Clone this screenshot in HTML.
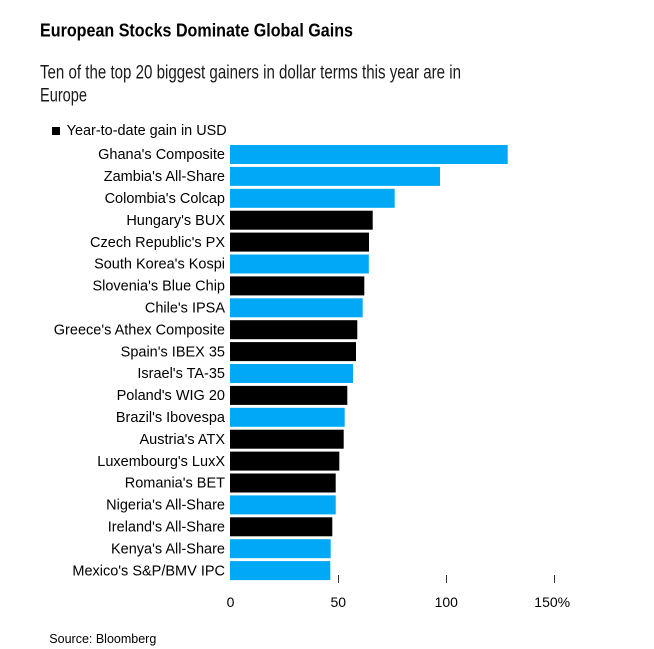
<!DOCTYPE html>
<html>
<head>
<meta charset="utf-8">
<style>
  html, body { margin: 0; padding: 0; background: #ffffff; }
  body { width: 654px; height: 649px; overflow: hidden; }
  svg { display: block; font-family: "Liberation Sans", Arial, sans-serif; }
</style>
</head>
<body>
<svg width="654" height="649" viewBox="0 0 654 649" xmlns="http://www.w3.org/2000/svg">
  <rect x="0" y="0" width="654" height="649" fill="#ffffff"/>

  <!-- Title -->
  <text x="40" y="36.7" font-size="18" font-weight="bold" fill="#000" textLength="313" lengthAdjust="spacingAndGlyphs">European Stocks Dominate Global Gains</text>

  <!-- Subtitle -->
  <text x="40" y="78.3" font-size="19" fill="#1a1a1a" textLength="421" lengthAdjust="spacingAndGlyphs">Ten of the top 20 biggest gainers in dollar terms this year are in</text>
  <text x="40" y="101.5" font-size="19" fill="#1a1a1a" textLength="47" lengthAdjust="spacingAndGlyphs">Europe</text>

  <!-- Legend -->
  <rect x="52" y="127" width="8" height="8" fill="#000"/>
  <text x="66.7" y="135" font-size="14.3" fill="#000" textLength="160" lengthAdjust="spacingAndGlyphs">Year-to-date gain in USD</text>

  <!-- Bars -->
  <g>
    <rect x="230" y="145.0" width="277.7" height="19" fill="#00a8f5"/>
    <rect x="230" y="166.9" width="210.0" height="19" fill="#00a8f5"/>
    <rect x="230" y="188.8" width="164.7" height="19" fill="#00a8f5"/>
    <rect x="230" y="210.7" width="142.7" height="19" fill="#000000"/>
    <rect x="230" y="232.6" width="139.0" height="19" fill="#000000"/>
    <rect x="230" y="254.5" width="138.8" height="19" fill="#00a8f5"/>
    <rect x="230" y="276.4" width="134.3" height="19" fill="#000000"/>
    <rect x="230" y="298.3" width="132.7" height="19" fill="#00a8f5"/>
    <rect x="230" y="320.2" width="127.3" height="19" fill="#000000"/>
    <rect x="230" y="342.1" width="126.0" height="19" fill="#000000"/>
    <rect x="230" y="364.0" width="123.0" height="19" fill="#00a8f5"/>
    <rect x="230" y="385.9" width="117.3" height="19" fill="#000000"/>
    <rect x="230" y="407.8" width="114.7" height="19" fill="#00a8f5"/>
    <rect x="230" y="429.7" width="113.7" height="19" fill="#000000"/>
    <rect x="230" y="451.6" width="109.3" height="19" fill="#000000"/>
    <rect x="230" y="473.5" width="105.7" height="19" fill="#000000"/>
    <rect x="230" y="495.4" width="105.7" height="19" fill="#00a8f5"/>
    <rect x="230" y="517.3" width="102.3" height="19" fill="#000000"/>
    <rect x="230" y="539.2" width="100.7" height="19" fill="#00a8f5"/>
    <rect x="230" y="561.1" width="100.3" height="19" fill="#00a8f5"/>
  </g>

  <!-- Category labels -->
  <g font-size="14.5" fill="#000" text-anchor="end">
    <text x="225" y="159.2">Ghana's Composite</text>
    <text x="225" y="181.1">Zambia's All-Share</text>
    <text x="225" y="203.0">Colombia's Colcap</text>
    <text x="225" y="224.9">Hungary's BUX</text>
    <text x="225" y="246.8">Czech Republic's PX</text>
    <text x="225" y="268.7">South Korea's Kospi</text>
    <text x="225" y="290.6">Slovenia's Blue Chip</text>
    <text x="225" y="312.5">Chile's IPSA</text>
    <text x="225" y="334.4">Greece's Athex Composite</text>
    <text x="225" y="356.3">Spain's IBEX 35</text>
    <text x="225" y="378.2">Israel's TA-35</text>
    <text x="225" y="400.1">Poland's WIG 20</text>
    <text x="225" y="422.0">Brazil's Ibovespa</text>
    <text x="225" y="443.9">Austria's ATX</text>
    <text x="225" y="465.8">Luxembourg's LuxX</text>
    <text x="225" y="487.7">Romania's BET</text>
    <text x="225" y="509.6">Nigeria's All-Share</text>
    <text x="225" y="531.5">Ireland's All-Share</text>
    <text x="225" y="553.4">Kenya's All-Share</text>
    <text x="225" y="575.3">Mexico's S&amp;P/BMV IPC</text>
  </g>

  <!-- Ticks -->
  <g stroke="#333" stroke-width="1">
    <line x1="338.5" y1="575" x2="338.5" y2="583"/>
    <line x1="446.5" y1="575" x2="446.5" y2="583"/>
    <line x1="554.5" y1="575" x2="554.5" y2="583"/>
  </g>

  <!-- Tick labels -->
  <g font-size="14" fill="#000">
    <text x="230.5" y="607" text-anchor="middle">0</text>
    <text x="338.3" y="607" text-anchor="middle">50</text>
    <text x="446.3" y="607" text-anchor="middle">100</text>
    <text x="534.3" y="607">150%</text>
  </g>

  <!-- Source -->
  <text x="49.3" y="643" font-size="12.5" fill="#000">Source: Bloomberg</text>
</svg>
</body>
</html>
